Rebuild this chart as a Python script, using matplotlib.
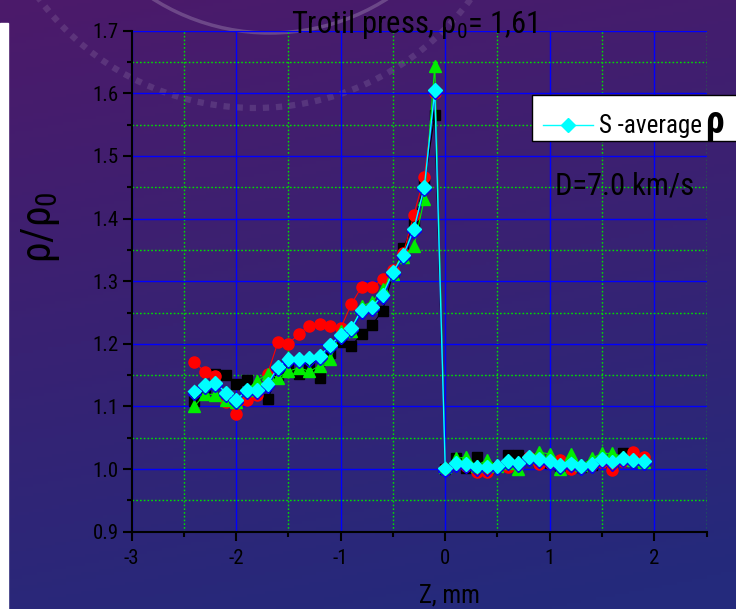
import matplotlib

matplotlib.use("Agg")
import matplotlib.pyplot as plt
import numpy as np
from matplotlib import font_manager
from matplotlib.lines import Line2D
from matplotlib.patches import Arc, Rectangle
from matplotlib.ticker import MultipleLocator
import matplotlib.patheffects as pe

# ---- data ----
z_mm = [-2.4, -2.3, -2.2, -2.1, -2.0, -1.9, -1.8, -1.7, -1.6, -1.5, -1.4, -1.3,
        -1.2, -1.1, -1.0, -0.9, -0.8, -0.7, -0.6, -0.5, -0.4, -0.3, -0.2, -0.1,
        0.0, 0.1, 0.2, 0.3, 0.4, 0.5, 0.6, 0.7, 0.8, 0.9,
        1.0, 1.1, 1.2, 1.3, 1.4, 1.5, 1.6, 1.7, 1.8, 1.9]

rho_black = [1.108, 1.128, 1.152, 1.150, 1.136, 1.143, 1.125, 1.112, 1.150, 1.160, 1.152, 1.165,
             1.145, 1.185, 1.203, 1.197, 1.215, 1.230, 1.253, 1.312, 1.353, 1.392, 1.455, 1.565,
             1.000, 1.017, 1.001, 1.020, 1.000, 1.003, 1.022, 1.022, 1.018, 1.012,
             1.010, 1.005, 1.008, 1.003, 1.007, 1.013, 1.008, 1.025, 1.015, 1.013]

rho_red = [1.171, 1.155, 1.148, 1.107, 1.088, 1.110, 1.118, 1.152, 1.203, 1.200, 1.216, 1.229,
           1.232, 1.229, 1.225, 1.263, 1.291, 1.290, 1.303, 1.318, 1.345, 1.406, 1.467, 1.600,
           1.000, 1.008, 1.005, 0.995, 0.995, 1.003, 1.003, 1.006, 1.020, 1.008,
           1.010, 1.014, 1.000, 1.003, 1.007, 1.012, 0.999, 1.013, 1.027, 1.020]

rho_green = [1.100, 1.120, 1.119, 1.110, 1.107, 1.126, 1.141, 1.152, 1.146, 1.156, 1.162, 1.156,
             1.165, 1.175, 1.221, 1.220, 1.260, 1.267, 1.287, 1.312, 1.338, 1.356, 1.431, 1.644,
             1.003, 1.017, 1.019, 1.005, 1.015, 1.005, 1.010, 1.000, 1.020, 1.027,
             1.024, 1.000, 1.024, 1.006, 1.017, 1.025, 1.025, 1.020, 1.015, 1.012]

rho_avg = [1.124, 1.134, 1.138, 1.122, 1.110, 1.126, 1.126, 1.136, 1.163, 1.176, 1.176, 1.178,
           1.180, 1.198, 1.214, 1.225, 1.254, 1.259, 1.278, 1.315, 1.342, 1.383, 1.451, 1.605,
           1.001, 1.010, 1.008, 1.004, 1.004, 1.005, 1.013, 1.010, 1.019, 1.016,
           1.013, 1.007, 1.009, 1.005, 1.008, 1.016, 1.012, 1.018, 1.015, 1.013]

names = {f.name for f in font_manager.fontManager.ttflist}
FONT = next((f for f in ["Liberation Sans Narrow", "Roboto Condensed", "Liberation Sans"] if f in names),
            "DejaVu Sans")
plt.rcParams["font.family"] = [FONT, "DejaVu Sans"]
plt.rcParams["axes.unicode_minus"] = False
plt.rcParams["mathtext.fontset"] = "custom"
plt.rcParams["mathtext.rm"] = FONT
plt.rcParams["mathtext.it"] = FONT
plt.rcParams["mathtext.bf"] = FONT + ":bold"

W, H = 736, 609
fig = plt.figure(figsize=(W / 100, H / 100), dpi=100)

# ---- slide background: purple -> blue gradient + faint decoration ----
bg = fig.add_axes([0, 0, 1, 1], zorder=-10)
ty = np.linspace(0, 1, 200)[:, None]
tx = np.linspace(0, 1, 200)[None, :]
top = np.array([76, 26, 106]) / 255
bot = np.array([36, 42, 124]) / 255
t = np.clip(ty * 0.85 + tx * 0.2, 0, 1)[..., None]
grad = top * (1 - t) + bot * t
bg.imshow(grad, extent=[0, W, H, 0], aspect="auto")
bg.add_patch(Arc((270, -185), 436, 436, theta1=0, theta2=180, color="white", alpha=0.2, lw=2.5))
bg.add_patch(Arc((255, -160), 536, 536, theta1=0, theta2=180, color="white", alpha=0.11, lw=4.5,
                 linestyle=(0, (1, 1.1))))
bg.add_patch(Rectangle((0, 23), 8, H - 23, color="white"))
bg.set_xlim(0, W)
bg.set_ylim(H, 0)
bg.axis("off")

# ---- main axes ----
ax = fig.add_axes([131.7 / W, 1 - 531.7 / H, (706.5 - 131.7) / W, (531.7 - 30.7) / H])
ax.set_facecolor("none")
for s in ("top", "right"):
    ax.spines[s].set_visible(False)
for s in ("left", "bottom"):
    ax.spines[s].set_linewidth(1.5)
    ax.spines[s].set_color("black")

ax.set_xlim(-3, 2.5)
ax.set_ylim(0.9, 1.7)
ax.xaxis.set_minor_locator(MultipleLocator(0.5))
ax.yaxis.set_minor_locator(MultipleLocator(0.05))
ax.set_xticks([-3, -2, -1, 0, 1, 2])
yt = [0.9, 1.0, 1.1, 1.2, 1.3, 1.4, 1.5, 1.6, 1.7]
ax.set_yticks(yt)
ax.set_yticklabels([f"{v:.1f}" for v in yt])
ax.tick_params(which="major", length=6.5, width=1.5, labelsize=15, color="black", pad=3)
ax.tick_params(which="minor", length=3.6, width=1.5, color="black")
ax.tick_params(axis="x", which="major", pad=6)

ax.grid(which="major", color="#0000ff", lw=1.0)
ax.grid(which="minor", color="#00e000", lw=1.0, ls=(0, (1.2, 1.5)))
ax.set_axisbelow(True)

ax.plot(z_mm, rho_black, "-s", color="black", lw=0.8, ms=6.5, zorder=3)
ax.plot(z_mm, rho_red, "-o", color="red", lw=0.8, ms=8, zorder=3)
ax.plot(z_mm, rho_green, "-^", color="#00ee00", lw=0.8, ms=8, zorder=3)
ax.plot(z_mm, rho_avg, "-D", color="cyan", mec="cyan", lw=1.0, ms=7, zorder=4,
        path_effects=[pe.SimpleLineShadow(offset=(0, -1.5), shadow_color="blue", alpha=1), pe.Normal()])

# ---- texts ----
fig.text(414 / W, 1 - 33 / H, r"Trotil press, $\rho_0$= 1,61", fontsize=22, ha="center", va="baseline")
fig.text(40 / W, 1 - 227 / H, r"$\rho/\rho_0$", fontsize=30, rotation=90, ha="center", va="center")
fig.text(449 / W, 1 - 595 / H, "Z, mm", fontsize=18, ha="center", va="center")
fig.text(555 / W, 1 - 195 / H, "D=7.0 km/s", fontsize=22, ha="left", va="baseline")

# ---- legend box (clipped at the right edge like the slide) ----
fig.add_artist(Rectangle((531.7 / W, 1 - 140.7 / H), 230 / W, 45.7 / H, transform=fig.transFigure,
                         facecolor="white", edgecolor="black", lw=1.0))
fig.add_artist(Line2D([543 / W, 593 / W], [1 - 125 / H] * 2, transform=fig.transFigure,
                      color="cyan", lw=1.0))
fig.add_artist(Line2D([568 / W], [1 - 125 / H], transform=fig.transFigure, marker="D",
                      color="cyan", ms=7))
fig.text(599 / W, 1 - 133 / H, "S -average", fontsize=18, ha="left", va="baseline")
fig.text(705 / W, 1 - 133 / H, "ρ", fontsize=27, fontweight="bold", ha="left", va="baseline")

fig.savefig("out.png", dpi=100)
